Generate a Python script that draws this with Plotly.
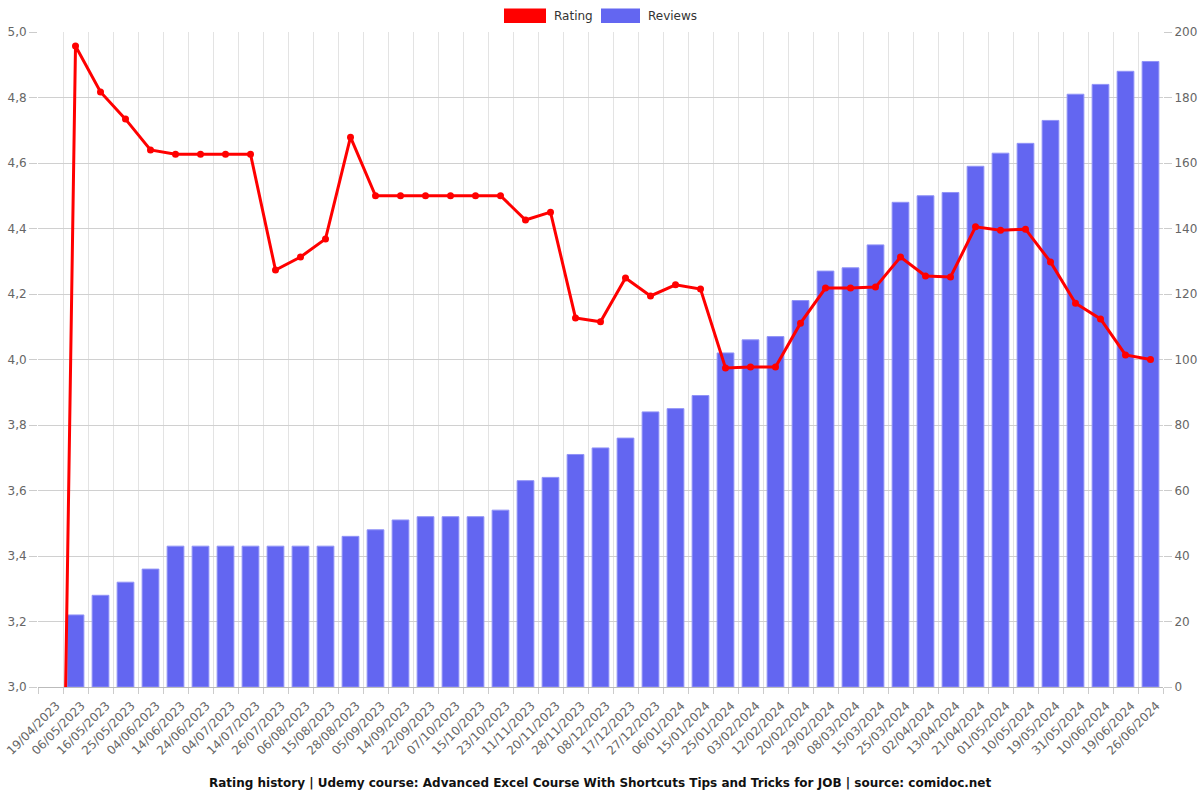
import plotly.graph_objects as go

dates = ["19/04/2023", "06/05/2023", "16/05/2023", "25/05/2023", "04/06/2023", "14/06/2023",
         "24/06/2023", "04/07/2023", "14/07/2023", "26/07/2023", "06/08/2023", "15/08/2023",
         "28/08/2023", "05/09/2023", "14/09/2023", "22/09/2023", "07/10/2023", "15/10/2023",
         "23/10/2023", "11/11/2023", "20/11/2023", "28/11/2023", "08/12/2023", "17/12/2023",
         "27/12/2023", "06/01/2024", "15/01/2024", "25/01/2024", "03/02/2024", "12/02/2024",
         "20/02/2024", "29/02/2024", "08/03/2024", "15/03/2024", "25/03/2024", "02/04/2024",
         "13/04/2024", "21/04/2024", "01/05/2024", "10/05/2024", "19/05/2024", "31/05/2024",
         "10/06/2024", "19/06/2024", "26/06/2024"]

rating = [0, 4.957, 4.817, 4.734, 4.64, 4.627, 4.627, 4.627, 4.627, 4.273, 4.313, 4.368,
          4.679, 4.5, 4.5, 4.5, 4.5, 4.5, 4.5, 4.426, 4.45, 4.127, 4.115, 4.249,
          4.194, 4.228, 4.215, 3.974, 3.977, 3.977, 4.111, 4.218, 4.218, 4.221, 4.313, 4.255,
          4.252, 4.405, 4.395, 4.398, 4.298, 4.172, 4.124, 4.014, 4.0]

reviews = [0, 22, 28, 32, 36, 43, 43, 43, 43, 43, 43, 43,
           46, 48, 51, 52, 52, 52, 54, 63, 64, 71, 73, 76,
           84, 85, 89, 102, 106, 107, 118, 127, 128, 135, 148, 150,
           151, 159, 163, 166, 173, 181, 184, 188, 191]

title_text = "Rating history | Udemy course: Advanced Excel Course With Shortcuts Tips and Tricks for JOB | source: comidoc.net"

FONT = "DejaVu Sans"
BAR_COLOR = "rgb(99,102,241)"
LINE_COLOR = "rgb(255,0,0)"

fig = go.Figure()
fig.add_trace(go.Bar(
    x=dates, y=reviews, name="Reviews", yaxis="y",
    marker=dict(color=BAR_COLOR,
                line=dict(color="rgb(145,147,247)", width=[0 if v == 0 else 1 for v in reviews])),
    showlegend=False,
))
fig.add_trace(go.Scatter(
    x=dates, y=rating, name="Rating", yaxis="y2", mode="lines+markers",
    line=dict(color=LINE_COLOR, width=3),
    marker=dict(color=LINE_COLOR, size=7),
    showlegend=False,
))

fig.update_layout(
    width=1200, height=800,
    margin=dict(l=38, r=37, t=32, b=113, pad=0, autoexpand=False),
    paper_bgcolor="white", plot_bgcolor="white",
    font=dict(family=FONT, size=12, color="#666"),
    separators=",.",
    bargap=0.33,
    xaxis=dict(
        type="category", tickangle=-45, tickson="boundaries",
        range=[-0.5, len(dates) - 0.5], automargin=False,
        ticks="outside", ticklen=6, tickcolor="#ccc",
        ticklabelshift=6, ticklabelstandoff=6,
        showgrid=True, gridcolor="#e3e3e3", gridwidth=1,
        showline=True, linecolor="#bbb", linewidth=1,
        tickfont=dict(size=12, color="#666", family=FONT),
        zeroline=False,
    ),
    yaxis=dict(
        side="right", range=[0, 200], dtick=20, automargin=False,
        showgrid=True, gridcolor="#d0d0d0", gridwidth=1,
        ticks="outside", ticklen=8, tickcolor="#ccc",
        tickfont=dict(size=12, color="#666", family=FONT),
        zeroline=False, showline=False,
    ),
    yaxis2=dict(
        overlaying="y", side="left", range=[3, 5], dtick=0.2, tickformat=".1f",
        showgrid=False, zeroline=False, automargin=False,
        ticks="outside", ticklen=8, tickcolor="#ccc",
        tickfont=dict(size=12, color="#666", family=FONT),
    ),
)

# Manual legend (rectangle swatches like the reference)
legend_items = [("Rating", LINE_COLOR, 504, 546, 552), ("Reviews", BAR_COLOR, 601, 640, 646)]
for label, color, x0, x1, tx in legend_items:
    fig.add_shape(type="rect", xref="paper", yref="paper",
                  x0=(x0 - 38) / 1125, x1=(x1 - 38) / 1125,
                  y0=1 + (32 - 23) / 655, y1=1 + (32 - 8.5) / 655,
                  fillcolor=color, line=dict(width=0))
    fig.add_annotation(text=label, xref="paper", yref="paper",
                       x=(tx - 38) / 1125, y=1 + (32 - 16) / 655,
                       xanchor="left", yanchor="middle", showarrow=False,
                       font=dict(family=FONT, size=12, color="#333"))

fig.add_annotation(text="<b>" + title_text + "</b>", xref="paper", yref="paper",
                   x=(600 - 38) / 1125, y=-(783 - 687) / 655, xanchor="center", yanchor="middle",
                   showarrow=False, font=dict(family=FONT, size=12, color="#111"))

fig.write_html("out.html")
